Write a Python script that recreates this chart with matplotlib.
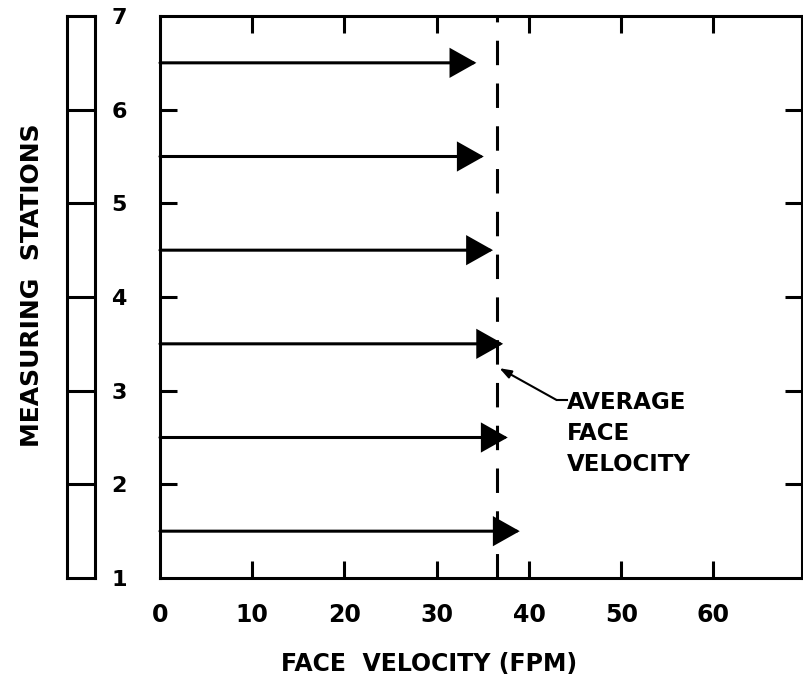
import matplotlib
matplotlib.use("Agg")
import matplotlib.pyplot as plt

# Measuring stations (y) and face velocity read at each arrow tip (FPM)
stations = [1.5, 2.5, 3.5, 4.5, 5.5, 6.5]
velocity = [39.0, 37.7, 37.2, 36.1, 35.1, 34.3]
avg_velocity = 36.5

x_ticks = [0, 10, 20, 30, 40, 50, 60]
y_ticks = [1, 2, 3, 4, 5, 6, 7]
station_edges = [2, 3, 4, 5, 6]

# Annotation anchor points (data units)
note_xy = (36.8, 3.24)
note_elbow = (43.0, 2.90)
note_text_xy = (44.1, 3.0)

plt.rcParams['font.family'] = ['DejaVu Sans']
plt.rcParams['font.weight'] = 'bold'

lw = 2.2
W, H = 804, 676
fig = plt.figure(figsize=(W / 100, H / 100), dpi=100)

# main axes
ax = fig.add_axes([160 / W, 1 - 578 / H, 642 / W, 562 / H])
ax.set_xlim(0, 69.6)
ax.set_ylim(1, 7)
for s in ax.spines.values():
    s.set_linewidth(lw)
ax.set_xticks(x_ticks)
ax.set_yticks(y_ticks)
ax.tick_params(axis='both', direction='in', length=12, width=lw,
               top=True, right=True)
ax.tick_params(axis='x', labelsize=17, pad=18)
ax.tick_params(axis='y', labelsize=16, pad=24)
for t in ax.get_xticklabels() + ax.get_yticklabels():
    t.set_fontweight('bold')
# hide end ticks that sit on the spines
for tk in ax.yaxis.get_major_ticks():
    if tk.get_loc() in (1, 7):
        tk.tick1line.set_visible(False)
        tk.tick2line.set_visible(False)
ax.xaxis.get_major_ticks()[0].tick1line.set_visible(False)
ax.xaxis.get_major_ticks()[0].tick2line.set_visible(False)

# velocity arrows
for y, v in zip(stations, velocity):
    ax.annotate('', xy=(v, y), xytext=(0, y),
                arrowprops=dict(arrowstyle='-|>,head_length=1.6,head_width=0.9',
                                lw=lw, color='black', shrinkA=0, shrinkB=0,
                                joinstyle='miter'))

# average face velocity
ax.axvline(avg_velocity, color='black', lw=lw, linestyle=(0, (8, 6)))

ax.annotate('', xy=note_xy, xytext=note_elbow,
            arrowprops=dict(arrowstyle='-|>,head_length=0.7,head_width=0.25',
                            lw=1.5, color='black', shrinkA=0, shrinkB=0))
ax.plot([note_elbow[0], note_text_xy[0]], [note_elbow[1], note_elbow[1]],
        color='black', lw=1.5)
ax.text(note_text_xy[0], note_text_xy[1], 'AVERAGE\nFACE\nVELOCITY',
        fontsize=16.5, fontweight='bold', va='top', ha='left',
        linespacing=1.45)

# station schematic on the left
ax2 = fig.add_axes([67 / W, 1 - 578 / H, 28 / W, 562 / H])
ax2.set_xlim(0, 1)
ax2.set_ylim(1, 7)
ax2.set_xticks([])
ax2.set_yticks([])
for s in ax2.spines.values():
    s.set_linewidth(lw)
for e in station_edges:
    ax2.axhline(e, color='black', lw=lw)

fig.text(429 / W, 1 - 664 / H, 'FACE  VELOCITY (FPM)', fontsize=17,
         fontweight='bold', ha='center', va='center')
fig.text(32 / W, 1 - 285 / H, 'MEASURING  STATIONS', fontsize=18,
         fontweight='bold', ha='center', va='center', rotation=90)

fig.savefig('out.png', dpi=100)
